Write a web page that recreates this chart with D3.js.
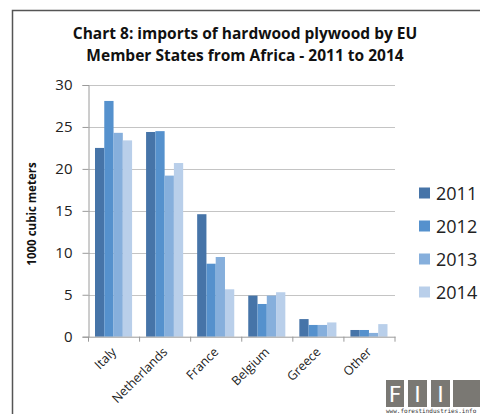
<!DOCTYPE html>
<html><head><meta charset="utf-8">
<script src="https://cdn.jsdelivr.net/npm/d3@7"></script>
<style>body{margin:0;background:#fff;}svg{display:block;}</style>
</head><body>
<svg id="c" width="480" height="414"></svg>
<script>
const categories = ["Italy","Netherlands","France","Belgium","Greece","Other"];
const years = ["2011","2012","2013","2014"];
const v2011 = [22.5, 24.4, 14.6, 4.9, 2.1, 0.8];
const v2012 = [28.1, 24.5, 8.7, 3.9, 1.4, 0.8];
const v2013 = [24.3, 19.2, 9.5, 4.9, 1.4, 0.45];
const v2014 = [23.4, 20.7, 5.65, 5.3, 1.7, 1.5];
const yTicks = [0,5,10,15,20,25,30];
const colors = ["#4674a8","#5591cd","#86afdc","#b9cfea"];
const series = [v2011, v2012, v2013, v2014];

(function(){
const svg = d3.select("#c");
const font = "'Open Sans', sans-serif";

// frame
svg.append("path").attr("d","M12.5,420 V10.5 H490").attr("fill","none").attr("stroke","#555").attr("stroke-width",1.5);

// title
const title = svg.append("text").attr("x",245).attr("text-anchor","middle")
  .attr("font-family",font).attr("font-weight","bold").attr("font-size",15.5).attr("fill","#111");
title.append("tspan").attr("x",245).attr("y",39).text("Chart 8: imports of hardwood plywood by EU");
title.append("tspan").attr("x",245).attr("y",61).text("Member States from Africa - 2011 to 2014");

const pl = 88.5, pr = 395, pt = 85, pb = 336.7;
const x0 = d3.scaleBand().domain(categories).range([pl, pr]).paddingInner(0).paddingOuter(0);
const x1 = d3.scaleBand().domain(years).range([6.5, x0.bandwidth()-7.5]).padding(0);
const y = d3.scaleLinear().domain([0,30]).range([pb, pt]);

// gridlines
svg.append("g").selectAll("line").data(yTicks.filter(d=>d>0)).join("line")
  .attr("x1",pl).attr("x2",pr).attr("y1",d=>Math.round(y(d))+0.5).attr("y2",d=>Math.round(y(d))+0.5)
  .attr("stroke","#c4c4c4").attr("stroke-width",1);

// bars
const g = svg.append("g");
categories.forEach((c,i)=>{
  years.forEach((yr,j)=>{
    const val = series[j][i];
    g.append("rect").attr("x",x0(c)+x1(yr)).attr("width",x1.bandwidth())
      .attr("y",y(val)).attr("height",y(0)-y(val)).attr("fill",colors[j]);
  });
});

// y axis
const yAxis = d3.axisLeft(y).tickValues(yTicks).tickSize(6).tickPadding(10);
const ya = svg.append("g").attr("transform",`translate(${pl},0)`).call(yAxis);
ya.select(".domain").attr("stroke","#9a9a9a");
ya.selectAll(".tick line").attr("stroke","#9a9a9a");
ya.selectAll(".tick text").attr("font-family",font).attr("font-size",15).attr("fill","#222");

// x axis
const xAxis = d3.axisBottom(x0).tickSize(0).tickFormat("");
const xa = svg.append("g").attr("transform",`translate(0,${pb})`).call(xAxis);
xa.select(".domain").attr("stroke","#9a9a9a");
xa.selectAll(".sep").data(d3.range(categories.length+1)).join("line")
  .attr("x1",d=>pl + d*x0.bandwidth()).attr("x2",d=>pl + d*x0.bandwidth())
  .attr("y1",0).attr("y2",5).attr("stroke","#9a9a9a");
xa.selectAll(".lbl").data(categories).join("text")
  .attr("transform",d=>`translate(${x0(d)+x0.bandwidth()/2+3},${16}) rotate(-45)`)
  .attr("text-anchor","end").attr("font-family",font).attr("font-size",12.5).attr("fill","#222")
  .text(d=>d);

// y label
svg.append("text").attr("transform","translate(36,214) rotate(-90)").attr("text-anchor","middle")
  .attr("font-family",font).attr("font-weight","bold").attr("font-size",11.5).attr("fill","#111")
  .text("1000 cubic meters");

// legend
const lg = svg.append("g");
years.forEach((yr,j)=>{
  const cy = 193 + j*33;
  lg.append("rect").attr("x",419).attr("y",cy-5.5).attr("width",11).attr("height",11).attr("fill",colors[j]);
  lg.append("text").attr("x",436).attr("y",cy+6.5).attr("font-family",font).attr("font-size",18).attr("fill","#222").text(yr);
});

// logo
const logo = svg.append("g");
[[386,18],[408,19],[431,19],[453,30]].forEach(([lx,w])=>{
  logo.append("rect").attr("x",lx).attr("y",380).attr("width",w).attr("height",27).attr("fill","#7a7873");
});
[["F",395],["I",417.5],["I",440.5]].forEach(([t,cx])=>{
  logo.append("text").attr("x",cx).attr("y",402).attr("text-anchor","middle").attr("font-family","'DejaVu Sans', sans-serif").attr("font-size",22).attr("fill","#fff").text(t);
});
logo.append("text").attr("x",386).attr("y",412.5).attr("font-family","'DejaVu Sans Mono', monospace").attr("font-size",6).attr("fill","#333").text("www.forestindustries.info");
})();
</script>
</body></html>
